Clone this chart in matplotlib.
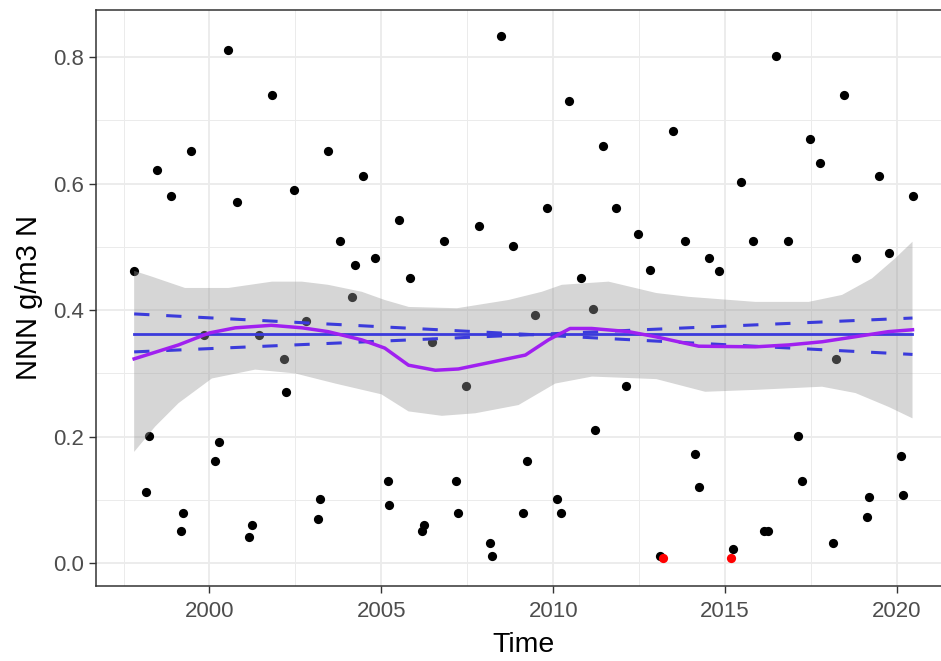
import numpy as np
import matplotlib
matplotlib.use('Agg')
from matplotlib import pyplot as plt

plt.rcParams['font.family'] = ['Liberation Sans', 'DejaVu Sans']

# observations (decimal year, value)
years = [1997.81, 1998.16, 1998.23, 1998.46, 1998.89, 1999.17, 1999.23, 1999.47,
         1999.83, 2000.17, 2000.28, 2000.53, 2000.81, 2001.16, 2001.23, 2001.45,
         2001.82, 2002.17, 2002.22, 2002.46, 2002.81, 2003.17, 2003.23, 2003.46,
         2003.81, 2004.16, 2004.24, 2004.46, 2004.83, 2005.18, 2005.23, 2005.52,
         2005.82, 2006.18, 2006.23, 2006.47, 2006.82, 2007.18, 2007.24, 2007.47,
         2007.83, 2008.17, 2008.23, 2008.47, 2008.83, 2009.12, 2009.23, 2009.48,
         2009.83, 2010.11, 2010.23, 2010.47, 2010.82, 2011.17, 2011.22, 2011.46,
         2011.82, 2012.12, 2012.47, 2012.82, 2013.10, 2013.47, 2013.83, 2014.12,
         2014.24, 2014.53, 2014.83, 2015.24, 2015.47, 2015.82, 2016.12, 2016.26,
         2016.48, 2016.83, 2017.12, 2017.24, 2017.47, 2017.76, 2018.13, 2018.23,
         2018.47, 2018.82, 2019.12, 2019.19, 2019.48, 2019.78, 2020.12, 2020.17,
         2020.47]
values = [0.462, 0.112, 0.201, 0.622, 0.581, 0.051, 0.079, 0.651,
          0.360, 0.162, 0.191, 0.811, 0.571, 0.041, 0.060, 0.360,
          0.740, 0.322, 0.271, 0.590, 0.383, 0.070, 0.102, 0.651,
          0.510, 0.421, 0.472, 0.612, 0.482, 0.130, 0.092, 0.542,
          0.450, 0.051, 0.060, 0.350, 0.510, 0.130, 0.079, 0.280,
          0.533, 0.032, 0.012, 0.833, 0.501, 0.079, 0.162, 0.392,
          0.562, 0.102, 0.079, 0.730, 0.450, 0.402, 0.210, 0.660,
          0.562, 0.280, 0.520, 0.463, 0.012, 0.683, 0.510, 0.172,
          0.121, 0.482, 0.462, 0.022, 0.603, 0.510, 0.051, 0.051,
          0.801, 0.510, 0.201, 0.130, 0.670, 0.632, 0.032, 0.322,
          0.740, 0.482, 0.073, 0.105, 0.612, 0.491, 0.169, 0.108,
          0.581]

# censored values (red)
cens_years = [2013.18, 2015.18]
cens_values = [0.008, 0.008]

# loess smooth
smooth_x = [1997.81, 1999.1, 2000.0, 2000.75, 2001.8, 2002.7, 2003.45, 2004.43,
            2005.1, 2005.79, 2006.57, 2007.24, 2008.22, 2009.19, 2009.86, 2010.49,
            2011.12, 2012.19, 2012.97, 2014.23, 2015.88, 2016.85, 2017.82, 2018.79,
            2019.75, 2020.45]
smooth_y = [0.323, 0.345, 0.364, 0.372, 0.376, 0.372, 0.366, 0.353,
            0.340, 0.313, 0.305, 0.307, 0.318, 0.329, 0.353, 0.371,
            0.371, 0.366, 0.358, 0.343, 0.342, 0.345, 0.350, 0.358,
            0.366, 0.369]

# loess confidence band
band_up_x = [1997.81, 1998.32, 1999.29, 2000.55, 2001.82, 2002.69, 2003.45, 2004.43,
             2005.1, 2005.8, 2007.2, 2008.7, 2009.67, 2010.25, 2011.61, 2013.0,
             2013.94, 2015.88, 2017.43, 2018.4, 2019.27, 2019.95, 2020.45]
band_up = [0.462, 0.453, 0.435, 0.435, 0.445, 0.445, 0.440, 0.429,
           0.416, 0.405, 0.403, 0.416, 0.429, 0.440, 0.445, 0.427,
           0.421, 0.413, 0.413, 0.424, 0.450, 0.482, 0.508]
band_lo_x = [1997.81, 1998.42, 1999.10, 2000.07, 2001.33, 2002.49, 2003.66, 2005.0,
             2005.79, 2006.76, 2007.73, 2008.99, 2010.06, 2011.13, 2013.0, 2014.42,
             2015.88, 2017.82, 2018.79, 2019.76, 2020.45]
band_lo = [0.176, 0.216, 0.253, 0.292, 0.306, 0.300, 0.284, 0.267,
           0.240, 0.233, 0.237, 0.250, 0.284, 0.295, 0.291, 0.271,
           0.274, 0.279, 0.269, 0.247, 0.229]

# trend line and its slope interval lines
trend_x = [1997.81, 2020.45]
trend_y = [0.362, 0.362]
ci_a = [0.394, 0.330]
ci_b = [0.334, 0.3875]

fig = plt.figure(figsize=(9.41, 6.61), dpi=100)
ax = fig.add_axes([96 / 941, 75 / 661, 855 / 941, 576.5 / 661])

ax.scatter(years, values, s=44, color='black', zorder=3, linewidths=0)
ax.scatter(cens_years, cens_values, s=44, color='red', zorder=3, linewidths=0)

poly_x = band_up_x + band_lo_x[::-1]
poly_y = band_up + band_lo[::-1]
ax.fill(poly_x, poly_y, color='#999999', alpha=0.4, lw=0, zorder=4)

ax.plot(trend_x, trend_y, color='#3b3bdb', lw=2.0, zorder=5)
ax.plot(trend_x, ci_a, color='#3b3bdb', lw=2.2, dashes=(5, 5.5), zorder=5)
ax.plot(trend_x, ci_b, color='#3b3bdb', lw=2.2, dashes=(5, 5.5), zorder=5)
ax.plot(smooth_x, smooth_y, color='#a020f0', lw=2.5, zorder=6)

ax.set_xlim(1996.70, 2021.57)
ax.set_ylim(-0.0359, 0.875)
ax.set_xticks([2000, 2005, 2010, 2015, 2020])
ax.set_xticks([1997.5, 2002.5, 2007.5, 2012.5, 2017.5], minor=True)
ax.set_yticks([0.0, 0.2, 0.4, 0.6, 0.8])
ax.set_yticks([0.1, 0.3, 0.5, 0.7], minor=True)
ax.set_yticklabels(['0.0', '0.2', '0.4', '0.6', '0.8'])

ax.grid(which='major', color='#ebebeb', lw=1.3, zorder=0)
ax.grid(which='minor', color='#ebebeb', lw=0.7, zorder=0)
ax.set_axisbelow(True)

for sp in ax.spines.values():
    sp.set_color('#333333')
    sp.set_linewidth(1.1)
ax.spines['right'].set_visible(False)

ax.tick_params(which='major', length=5, width=1.0, color='#333333',
               labelcolor='#4d4d4d', labelsize=16, pad=4)
ax.tick_params(axis='x', which='major', pad=6)
ax.tick_params(which='minor', length=0)

ax.set_xlabel('Time', fontsize=20.5, color='black', labelpad=7)
ax.set_ylabel('NNN g/m3 N', fontsize=21, color='black', labelpad=7)

fig.savefig('out.png', dpi=100)
